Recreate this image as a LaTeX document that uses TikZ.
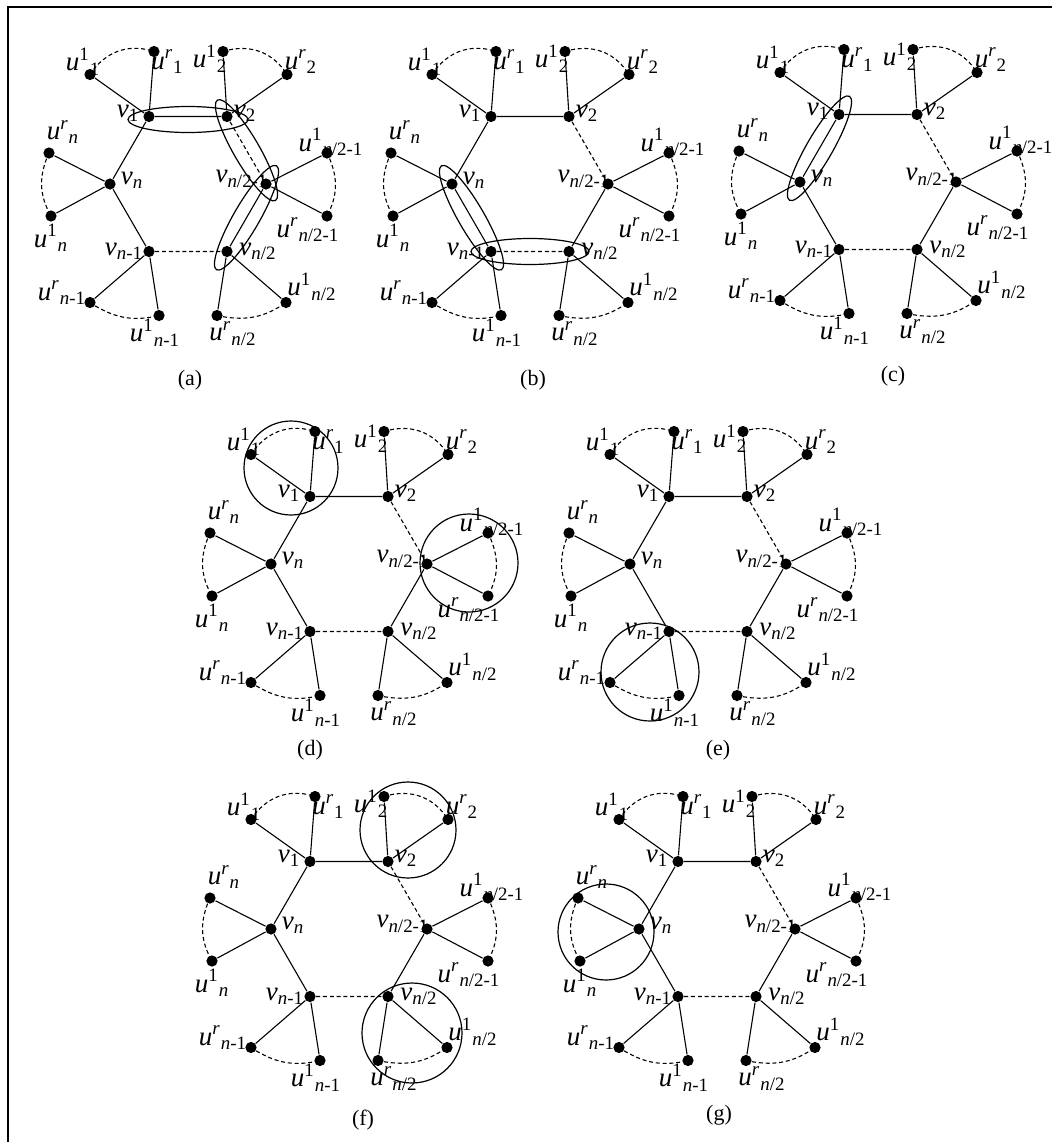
\documentclass[tikz,border=0pt]{standalone}
\usepackage{fontspec}
\setmainfont{Liberation Serif}
\usetikzlibrary{calc}
\tikzset{dot/.style = {circle, fill, inner sep=0pt, minimum size=5.6pt},
         lab/.style = {inner sep=0pt, font=\fontsize{13.5}{13.5}\selectfont},
         subcap/.style = {inner sep=0pt, font=\fontsize{11}{11}\selectfont},
         dedge/.style = {dash pattern=on 2pt off 1.4pt},
         ring/.style = {line width=0.6pt}}
\newcommand{\ulab}[2]{\textit{u}\textsuperscript{#1}\textsubscript{#2}}
\newcommand{\vlab}[1]{\textit{v}\textsubscript{#1}}
% one hexagon with its pendant pairs, drawn round (0,0)
\newcommand{\hexgraph}{%
  \node [dot] (v1) at (-39, -67.5) {};
  \node [dot] (v2) at (39, -67.5) {};
  \node [dot] (vn) at (-78, 0) {};
  \node [dot] (vhm) at (78, 0) {};
  \node [dot] (vnm) at (-39, 67.5) {};
  \node [dot] (vh) at (39, 67.5) {};
  \node [dot] (u11) at (-98, -109.5) {};
  \node [dot] (ur1) at (-34, -132.5) {};
  \node [dot] (u12) at (35, -132.5) {};
  \node [dot] (ur2) at (99, -109.5) {};
  \node [dot] (urn) at (-139, -31) {};
  \node [dot] (u1n) at (-137, 32) {};
  \node [dot] (u1hm) at (139, -31) {};
  \node [dot] (urhm) at (139, 32) {};
  \node [dot] (urnm) at (-98, 118.5) {};
  \node [dot] (u1nm) at (-29, 131.5) {};
  \node [dot] (urh) at (29, 131.5) {};
  \node [dot] (u1h) at (98, 118.5) {};
  \draw (v1) -- (v2) (v1) -- (vn) (vn) -- (vnm) (vhm) -- (vh);
  \draw [dedge] (v2) -- (vhm) (vnm) -- (vh);
  \draw (v1) -- (u11) (v1) -- (ur1) (v2) -- (u12) (v2) -- (ur2);
  \draw (vn) -- (urn) (vn) -- (u1n) (vhm) -- (u1hm) (vhm) -- (urhm);
  \draw (vnm) -- (urnm) (vnm) -- (u1nm) (vh) -- (urh) (vh) -- (u1h);
  \draw [dedge] (u11) to [bend left=35] (ur1);
  \draw [dedge] (u12) to [bend left=35] (ur2);
  \draw [dedge] (urn) to [bend right=25] (u1n);
  \draw [dedge] (u1hm) to [bend left=25] (urhm);
  \draw [dedge] (urnm) to [bend right=22] (u1nm);
  \draw [dedge] (urh) to [bend right=22] (u1h);
  \node [lab] (tv1) at ($(v1)+(-21,-3)$) {\vlab{1}};
  \node [lab] (tv2) at ($(v2)+(18,-3)$) {\vlab{2}};
  \node [lab] (tvn) at ($(vn)+(22,-4)$) {\vlab{\textit{n}}};
  \node [lab] (tvhm) at ($(vhm)+(-24,-5)$) {\vlab{\textit{n}/2-1}};
  \node [lab] (tvnm) at ($(vnm)+(-25,0)$) {\vlab{\textit{n}-1}};
  \node [lab] (tvh) at ($(vh)+(31,0)$) {\vlab{\textit{n}/2}};
  \node [lab] (tu11) at ($(u11)+(-7,-13)$) {\ulab{1}{1}};
  \node [lab] (tur1) at ($(ur1)+(13.5,10)$) {\ulab{\textit{r}}{1}};
  \node [lab] (tu12) at ($(u12)+(-13,7)$) {\ulab{1}{2}};
  \node [lab] (tur2) at ($(ur2)+(14,-13)$) {\ulab{\textit{r}}{2}};
  \node [lab] (turn) at ($(urn)+(14,-21)$) {\ulab{\textit{r}}{\textit{n}}};
  \node [lab] (tu1n) at ($(u1n)+(0,22)$) {\ulab{1}{\textit{n}}};
  \node [lab] (tu1hm) at ($(u1hm)+(4,-11)$) {\ulab{1}{\textit{n}/2-1}};
  \node [lab] (turhm) at ($(urhm)+(-19,14)$) {\ulab{\textit{r}}{\textit{n}/2-1}};
  \node [lab] (turnm) at ($(urnm)+(-28,-10)$) {\ulab{\textit{r}}{\textit{n}-1}};
  \node [lab] (tu1nm) at ($(u1nm)+(-4,17)$) {\ulab{1}{\textit{n}-1}};
  \node [lab] (turh) at ($(urh)+(16,18)$) {\ulab{\textit{r}}{\textit{n}/2}};
  \node [lab] (tu1h) at ($(u1h)+(26,-16)$) {\ulab{1}{\textit{n}/2}};
}

\begin{document}
\begin{tikzpicture}[x=0.5pt, y=-0.5pt, line width=0.55pt]
  \useasboundingbox (0, 0) rectangle (1052, 1142);
  \draw [line width=1pt] (1052, 7) -- (8, 7) -- (8, 1142);

  % (a)
  \begin{scope}[shift={(188, 184)}, name prefix=a-]
    \hexgraph
    \node [subcap] (cap) at (2, 196) {(a)};
    \coordinate (e1) at ($(v1)!0.5!(v2)+(0,3)$);
    \coordinate (e2) at ($(v2)!0.5!(vhm)$);
    \coordinate (e3) at ($(vhm)!0.5!(vh)$);
    \draw [ring] (e1) ellipse [x radius=60, y radius=13];
    \draw [ring, rotate around={-60:(e2)}] (e2) ellipse [x radius=58, y radius=13];
    \draw [ring, rotate around={60:(e3)}] (e3) ellipse [x radius=60, y radius=13];
  \end{scope}

  % (b)
  \begin{scope}[shift={(530, 184)}, name prefix=b-]
    \hexgraph
    \node [subcap] (cap) at (3, 196) {(b)};
    \coordinate (e1) at ($(vn)!0.5!(vnm)$);
    \coordinate (e2) at ($(vnm)!0.5!(vh)$);
    \draw [ring, rotate around={-60:(e1)}] (e1) ellipse [x radius=60, y radius=13];
    \draw [ring] (e2) ellipse [x radius=59, y radius=13];
  \end{scope}

  % (c)
  \begin{scope}[shift={(878, 182)}, name prefix=c-]
    \hexgraph
    \node [subcap] (cap) at (15, 194) {(c)};
    \coordinate (e1) at ($(v1)!0.5!(vn)$);
    \draw [ring, rotate around={60:(e1)}] (e1) ellipse [x radius=60, y radius=13];
  \end{scope}

  % (d)
  \begin{scope}[shift={(349, 564)}, name prefix=d-]
    \hexgraph
    \node [subcap] (cap) at (-39, 186) {(d)};
    \draw [ring] ($(v1)+(-19,-28.5)$) circle [radius=47];
    \draw [ring] ($(vhm)+(42,-1)$) circle [radius=49];
  \end{scope}

  % (e)
  \begin{scope}[shift={(708, 564)}, name prefix=e-]
    \hexgraph
    \node [subcap] (cap) at (10, 186) {(e)};
    \draw [ring] ($(vnm)+(-19,40.5)$) circle [radius=49];
  \end{scope}

  % (f)
  \begin{scope}[shift={(349, 929)}, name prefix=f-]
    \hexgraph
    \node [subcap] (cap) at (14, 191) {(f)};
    \draw [ring] ($(v2)+(20,-31.5)$) circle [radius=48];
    \draw [ring] ($(vh)+(24,36.5)$) circle [radius=50];
  \end{scope}

  % (g)
  \begin{scope}[shift={(717, 929)}, name prefix=g-]
    \hexgraph
    \node [subcap] (cap) at (2, 186) {(g)};
    \draw [ring] ($(vn)+(-33,3)$) circle [radius=48];
  \end{scope}
\end{tikzpicture}
\end{document}
